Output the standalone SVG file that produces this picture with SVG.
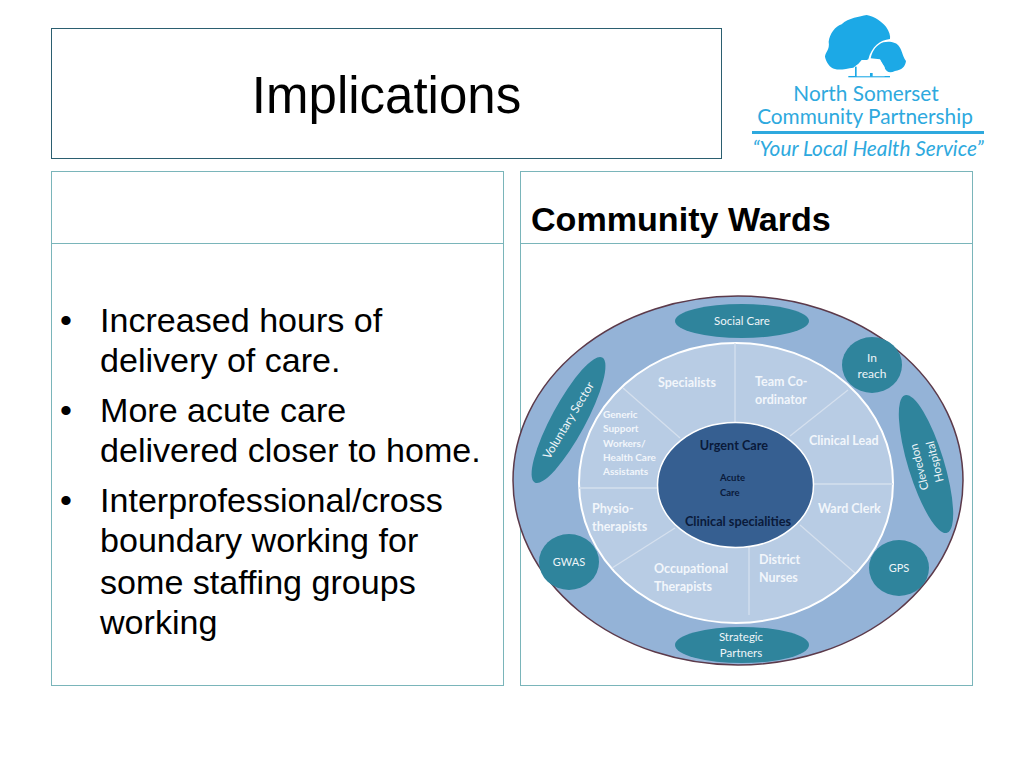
<svg xmlns="http://www.w3.org/2000/svg" width="1024" height="768" viewBox="0 0 1024 768">
<style>
.frame{fill:#fff;stroke:#7ab5ba;stroke-width:1}
.title{font:51px "Liberation Sans",Arial,sans-serif;fill:#000;text-anchor:middle}
.head{font:bold 34.1px "Liberation Sans",Arial,sans-serif;fill:#000}
.body{font:34.1px "Liberation Sans",Arial,sans-serif;fill:#000}
.sat{fill:#2f849c}
.spoke{stroke:#d5e0ee;stroke-width:1.3;fill:none}
.w{font:11.5px Lato,"Open Sans",sans-serif;fill:#eef4f8;text-anchor:middle}
.b{font:bold 12.5px Lato,"Open Sans",sans-serif;fill:#f2f6fb}
.d{font:bold 12.7px Lato,"Open Sans",sans-serif;fill:#0a1a3a;text-anchor:middle}
.logo{font:20.8px Lato,"Open Sans",sans-serif;fill:#2ea9de;text-anchor:middle}
</style>
<g id="title-box"><rect class="frame" style="stroke:#2b5f70" x="51.5" y="28.5" width="670" height="130"/><text class="title" x="386.5" y="113">Implications</text></g>
<g id="left-panel"><rect class="frame" x="51.5" y="171.5" width="452" height="514"/><line class="frame" x1="51.5" y1="243.5" x2="503.5" y2="243.5"/>
<g class="body">
<text x="60" y="332">•</text><text x="100" y="332">Increased hours of</text><text x="100" y="372">delivery of care.</text>
<text x="60" y="422">•</text><text x="100" y="422">More acute care</text><text x="100" y="462">delivered closer to home.</text>
<text x="60" y="512">•</text><text x="100" y="512">Interprofessional/cross</text><text x="100" y="552">boundary working for</text><text x="100" y="594">some staffing groups</text><text x="100" y="634">working</text>
</g></g>
<g id="right-panel"><rect class="frame" x="520.5" y="171.5" width="452" height="514"/><line class="frame" x1="520.5" y1="243.5" x2="972.5" y2="243.5"/><text class="head" x="531" y="231">Community Wards</text></g>
<g id="logo">
<g transform="translate(740,5) scale(.3333)" fill="#1ca9e6">
<path d="M255 155C256 140 270 135 266 110C270 85 285 65 305 58C325 38 360 35 380 30C405 35 425 50 438 65C448 80 452 92 450 102C420 105 395 125 385 163L350 180L340 188C320 190 300 197 285 192C270 190 258 170 255 155Z"/>
<path d="M392 160C398 135 410 120 430 112C450 108 470 112 478 125C488 140 486 150 498 168C496 185 485 195 465 198C450 205 440 203 432 185L420 163Z"/>
<rect x="345" y="185" width="10" height="30"/><rect x="325" y="213" width="125" height="4"/>
<path d="M350 214V182L365 165H420L434 186V214Z" fill="#fff"/><rect x="390" y="204" width="8" height="11"/>
</g>
<text class="logo" x="866" y="101">North Somerset</text>
<text class="logo" x="865" y="124">Community Partnership</text>
<rect x="752" y="131" width="232" height="3" fill="#2ea9de"/>
<text class="logo" style="font-style:italic" x="868" y="156">“Your Local Health Service”</text>
</g>
<g id="diagram">
<ellipse id="outer" cx="738" cy="480.5" rx="225" ry="184.5" fill="#94b3d7" stroke="#5c3a4a" stroke-width="1.5"/>
<ellipse id="ring" cx="736" cy="483" rx="157" ry="140" fill="#b8cce4" stroke="#fff" stroke-width="2"/>
<g id="connectors">
<line class="spoke" x1="735" y1="343" x2="735" y2="423"/>
<line class="spoke" x1="848" y1="390" x2="790" y2="436"/>
<line class="spoke" x1="813" y1="484" x2="893" y2="484"/>
<line class="spoke" x1="800" y1="525" x2="855" y2="573"/>
<line class="spoke" x1="749" y1="539" x2="749" y2="615"/>
<line class="spoke" x1="675" y1="528" x2="612" y2="568"/>
<line class="spoke" x1="579" y1="488" x2="658" y2="488"/>
<line class="spoke" x1="623" y1="388" x2="680" y2="438"/>
</g>
<ellipse id="core" cx="735.5" cy="485" rx="78" ry="62.5" fill="#365f91" stroke="#fff" stroke-width="1.5"/>
<g id="social-care"><ellipse class="sat" cx="742" cy="321" rx="67" ry="17"/><text class="w" x="742" y="325">Social Care</text></g>
<g id="in-reach"><ellipse class="sat" cx="872" cy="365" rx="30" ry="28"/><text class="w" style="font-size:12px" x="872" y="362">In</text><text class="w" style="font-size:12px" x="872" y="378">reach</text></g>
<g id="clevedon"><ellipse class="sat" cx="926" cy="464" rx="72" ry="18" transform="rotate(73 926 464)"/><text class="w" transform="translate(923,466) rotate(-104)">Clevedon</text><text class="w" transform="translate(938.6,460.7) rotate(-104)">Hospital</text></g>
<g id="gps"><ellipse class="sat" cx="899" cy="568" rx="30" ry="28"/><text class="w" style="font-size:11px" x="899" y="572">GPS</text></g>
<g id="strategic"><ellipse class="sat" cx="742" cy="645" rx="67" ry="18"/><text class="w" x="741" y="641">Strategic</text><text class="w" x="741" y="657">Partners</text></g>
<g id="gwas"><ellipse class="sat" cx="569" cy="562" rx="30" ry="28"/><text class="w" style="font-size:11px" x="569" y="566">GWAS</text></g>
<g id="voluntary"><ellipse class="sat" cx="568.5" cy="420" rx="71" ry="17" transform="rotate(-61.6 568.5 420)"/><text class="w" style="font-size:12px" transform="translate(572,422.5) rotate(-59)">Voluntary Sector</text></g>
<text class="b" x="658" y="387">Specialists</text>
<text class="b" x="755" y="386">Team Co-</text><text class="b" x="755" y="404">ordinator</text>
<text class="b" x="809" y="445">Clinical Lead</text>
<text class="b" x="818" y="513">Ward Clerk</text>
<text class="b" x="759" y="564">District</text><text class="b" x="759" y="582">Nurses</text>
<text class="b" x="654" y="573">Occupational</text><text class="b" x="654" y="591">Therapists</text>
<text class="b" x="592" y="513">Physio-</text><text class="b" x="592" y="531">therapists</text>
<g class="b" style="font-size:10px"><text x="603" y="418">Generic</text><text x="603" y="432">Support</text><text x="603" y="447">Workers/</text><text x="603" y="461">Health Care</text><text x="603" y="475">Assistants</text></g>
<text class="d" x="734" y="450">Urgent Care</text>
<text class="d" style="font-size:9.5px;text-anchor:start" x="720" y="481">Acute</text><text class="d" style="font-size:9.5px;text-anchor:start" x="720" y="496">Care</text>
<text class="d" x="738" y="526">Clinical specialities</text>
</g>
</svg>
